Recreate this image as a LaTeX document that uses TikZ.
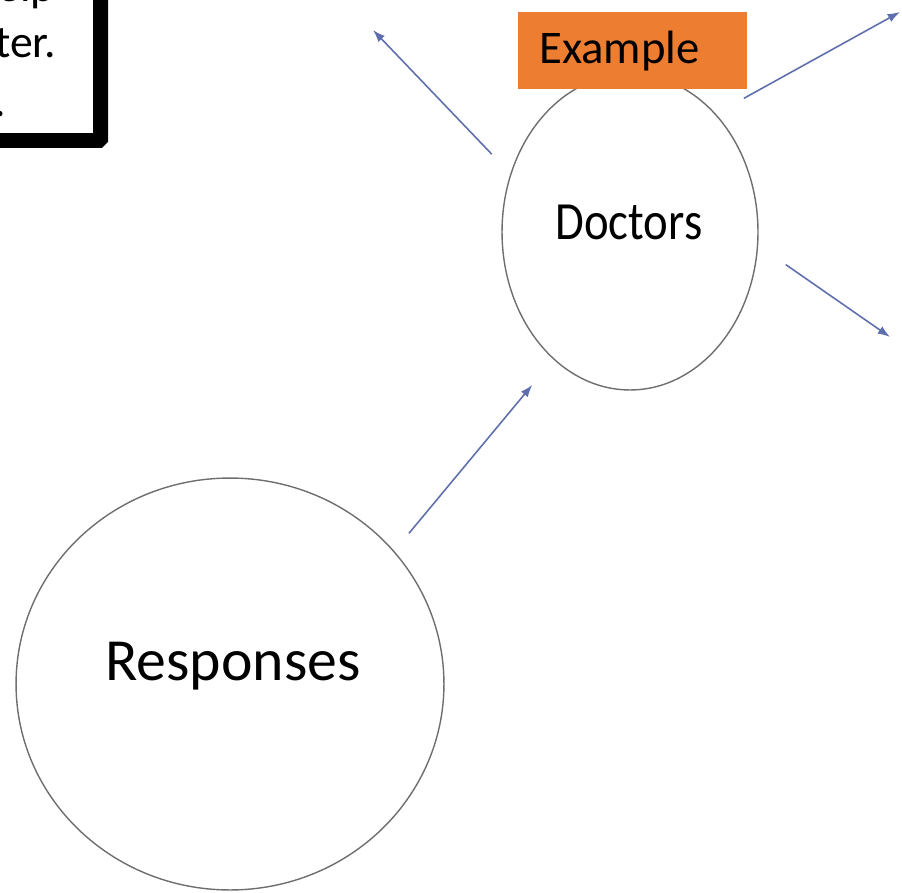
\documentclass[tikz,border=0pt]{standalone}
\usepackage{fontspec}
\setmainfont{Carlito}
\usepackage{xcolor}
\usepackage{tikz}
\usetikzlibrary{positioning,arrows.meta,shapes.geometric}

\definecolor{boxorange}{HTML}{ED7D31}
\definecolor{arrowblue}{HTML}{5F6FAD}
\definecolor{ringgray}{HTML}{6E6E6E}

\tikzset{
	bubble/.style={ellipse, draw=ringgray, line width=0.8pt, inner sep=0pt},
	conn/.style={draw=arrowblue, line width=0.9pt, -{Latex[length=7pt,width=5pt]}},
	tag/.style={rectangle, fill=boxorange, inner xsep=0.42cm, inner ysep=0pt,
		minimum height=1.54cm, text width=3.74cm, align=left}
}

\begin{document}
\begin{tikzpicture}[x=0.02cm, y=-0.02cm]
			\useasboundingbox (0,0) rectangle (902,892);
			\clip (0,0) rectangle (902,892);

			% Textbox
			\draw[line width=0.3cm, rounded corners=1pt] (-40,-40) rectangle (100.5,140.5);
			\foreach \x/\y/\frag in {55/2/{elp}, 56/58/{ter.}, 6/116/{.}}{
				\node[anchor=base east, inner sep=0pt, font=\fontsize{26}{33}\selectfont] at (\x,\y) {\frag};
			}

			% Kreise
			\node[bubble, minimum width=5.12cm, minimum height=6.32cm] (doc) at (630,232) {};
			\node[anchor=base, inner sep=0pt, font=\fontsize{26.6}{32}\selectfont] (doclbl) at (629,239) {\scalebox{1}[1.15]{Doctors}};
			\node[bubble, minimum width=8.56cm, minimum height=8.24cm] (resp) at (230,684) {};
			\node[anchor=base, inner sep=0pt, font=\fontsize{34}{41}\selectfont] (resplbl) at (233,680) {Responses};

			% Tag
			\node[tag, anchor=north west, font=\fontsize{26.6}{32}\selectfont] (ex) at (518,12) {Example};

			% Pfeile
			\coordinate (tipnw) at (373,30);
			\coordinate (tipne) at (900,12);
			\coordinate (tipse) at (890,337);
			\foreach \a/\s/\t in {154/0.54/tipnw, 54/0.64/tipne, -6/0.67/tipse}{
				\draw[conn, shorten <=\s cm] (doc.\a) -- (\t);
			}
			\draw[conn, shorten <=0.46cm, shorten >=0.66cm] (resp.39) -- (doc.-121);
		\end{tikzpicture}
\end{document}
